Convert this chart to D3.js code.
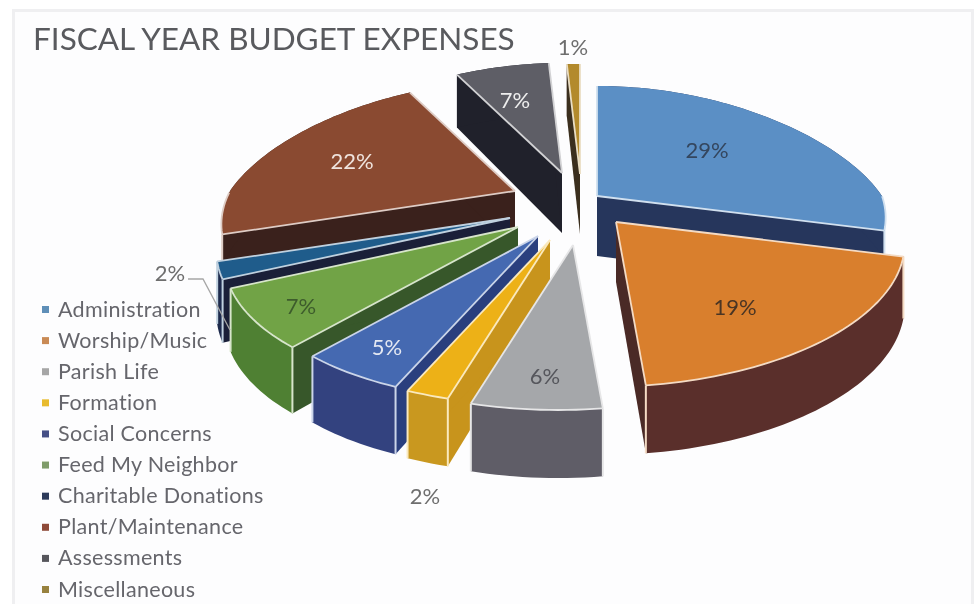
<!DOCTYPE html>
<html>
<head>
<meta charset="utf-8">
<script src="https://cdn.jsdelivr.net/npm/d3@7/dist/d3.min.js"></script>
<style>
  html, body { margin: 0; padding: 0; background: #fff; overflow: hidden; }
  svg { display: block; filter: blur(0.5px); }
  text { font-family: Lato, "Open Sans", sans-serif; }
</style>
</head>
<body>
<div id="chart"></div>
<script>
// data
const categories = ["Administration", "Worship/Music", "Parish Life", "Formation", "Social Concerns",
  "Feed My Neighbor", "Charitable Donations", "Plant/Maintenance", "Assessments", "Miscellaneous"];
const values = [29, 19, 6, 2, 5, 7, 2, 22, 7, 1];

// colours per slice: top face, outer rim, radial sides
const topColors = ["#5b8fc5", "#d97f2d", "#a5a7aa", "#edb117", "#4569b1", "#71a346", "#1f5c8b", "#8a4a31", "#5e5e66", "#b38a2c"];
const rimColors = ["#26365c", "#5a2f2b", "#5f5d67", "#c9981f", "#33427f", "#4f8033", "#1d2a4c", "#3a211c", "#20212b", "#3b2f1e"];
const sideColors = ["#26365c", "#4a2a26", "#5f5d67", "#c8941c", "#2a3f7e", "#37572a", "#1a1f38", "#3a211c", "#20212b", "#3b2f1e"];
const legendColors = ["#5f8fb8", "#c98a55", "#a6a6a6", "#e8bb2e", "#454f86", "#7f9c6a", "#2c3a5a", "#8e4a38", "#56565c", "#98823f"];
const labelColors = ["#34465e", "#4a3524", "#55565c", "#6e6e6e", "#e4e8f2", "#3d5c2c", "#6e6e6e", "#f0e4de", "#eeeeee", "#6e6e6e"];

// layout: per slice explosion from the pie centre, and label anchors
const pullX = [32, 51, 8, -15, -27, -47, -55, -50, -3, 15];
const pullY = [-4, 22, 45, 40, 36, 27, 18, -9, -27, -26];
const labelX = [707, 735, 545, 425, 387, 301, 170, 352, 515, 573];
const labelY = [150, 307, 376, 496, 347, 306, 273, 161, 100, 47];
// back to front
const drawOrder = [9, 8, 7, 0, 6, 5, 4, 3, 2, 1];

const width = 979, height = 604;
const cx = 565, cy = 200, R = 285, Ry = 132, persp = 0.2;

const svg = d3.select("#chart").append("svg").attr("width", width).attr("height", height);
svg.append("rect").attr("width", width).attr("height", height).attr("fill", "#fff");
// soft frame of the pasted picture
svg.append("rect")
  .attr("x", 13.5).attr("y", 10.5).attr("width", 959).attr("height", 620)
  .attr("fill", "#fdfdfe").attr("stroke", "#efeff1").attr("stroke-width", 3);

svg.append("text")
  .attr("x", 33).attr("y", 50)
  .attr("font-size", 31.5).attr("fill", "#595a5e")
  .text("FISCAL YEAR BUDGET EXPENSES");

// disc point at clock angle a, to screen offset from the apex, with the tilt
function project(a, r) {
  const wx = Math.sin(a) * r, wy = -Math.cos(a) * r;
  const s = 1 / (1 - persp * wy);
  const sx = s * (1 - 0.115 * Math.max(0, -wy));
  const y = wy * Ry * s;
  const x = wx * R * sx - (y > 0 ? 0.09 * y : 0);
  return { x, y, wy };
}
const depth = (wy) => 60 + 8 * wy;

const line = d3.line().x((d) => d[0]).y((d) => d[1]);
const pie = d3.pie().sort(null).value((d) => d)(values);

drawOrder.forEach((i) => {
  const d = pie[i];
  const ax = cx + pullX[i], ay = cy + pullY[i];
  const steps = Math.max(4, Math.round((d.endAngle - d.startAngle) * 40));
  const angles = d3.range(steps + 1).map((k) => d.startAngle + (d.endAngle - d.startAngle) * k / steps);
  const arcPts = angles.map((a) => project(a, 1));
  const top = arcPts.map((p) => [ax + p.x, ay + p.y]);
  const low = arcPts.map((p) => [ax + p.x, ay + p.y + depth(p.wy)]);
  const apex = [ax, ay], apexLow = [ax, ay + depth(0)];
  const g = svg.append("g").attr("class", "slice");

  // radial sides, both, the top and rim cover whichever faces away
  [[top[0], low[0]], [top[steps], low[steps]]].forEach(([t, b]) => {
    g.append("path")
      .attr("d", line([apex, t, b, apexLow]) + "Z")
      .attr("fill", sideColors[i]);
  });
  // outer rim
  g.append("path")
    .attr("d", line(top.concat(low.slice().reverse())) + "Z")
    .attr("fill", rimColors[i]);

  const edge = d3.interpolateRgb(topColors[i], "#ffffff")(0.72);
  // upright edges at the front corners
  [0, steps].forEach((k) => {
    if (arcPts[k].wy > 0) {
      g.append("path")
        .attr("d", line([top[k], low[k]]))
        .attr("stroke", edge).attr("stroke-width", 2).attr("fill", "none");
    }
  });
  // top face
  g.append("path")
    .attr("d", line([apex].concat(top)) + "Z")
    .attr("fill", topColors[i]);
  // light edges: the radial ones, and the arc only on the near half
  [top[0], top[steps]].forEach((t) => {
    g.append("path")
      .attr("d", line([apex, t]))
      .attr("stroke", edge).attr("stroke-width", 1.8).attr("fill", "none");
  });
  const near = top.filter((p, k) => arcPts[k].wy > 0);
  if (near.length > 1) {
    g.append("path")
      .attr("d", line(near))
      .attr("stroke", edge).attr("stroke-width", 1.8).attr("fill", "none");
  }
});

// leader of the small charitable slice
svg.append("path")
  .attr("d", line([[188, 279], [203, 279], [230, 330]]))
  .attr("fill", "none").attr("stroke", "#a6a6a6").attr("stroke-width", 1.3);

svg.append("g").selectAll("text")
  .data(values)
  .join("text")
  .attr("x", (d, i) => labelX[i])
  .attr("y", (d, i) => labelY[i])
  .attr("dy", "0.35em")
  .attr("text-anchor", "middle")
  .attr("font-size", 22)
  .attr("fill", (d, i) => labelColors[i])
  .text((d) => d + "%");

// legend
const legendY = d3.scalePoint().domain(categories).range([309, 589]);
const legend = svg.append("g").selectAll("g").data(categories).join("g")
  .attr("transform", (d) => `translate(0,${legendY(d)})`);
legend.append("rect")
  .attr("x", 42).attr("y", -3).attr("width", 7).attr("height", 7)
  .attr("fill", (d, i) => legendColors[i]);
legend.append("text")
  .attr("x", 58).attr("dy", "0.35em")
  .attr("font-size", 21.5).attr("letter-spacing", 0.3).attr("fill", "#66666c")
  .text((d) => d);
</script>
</body>
</html>
